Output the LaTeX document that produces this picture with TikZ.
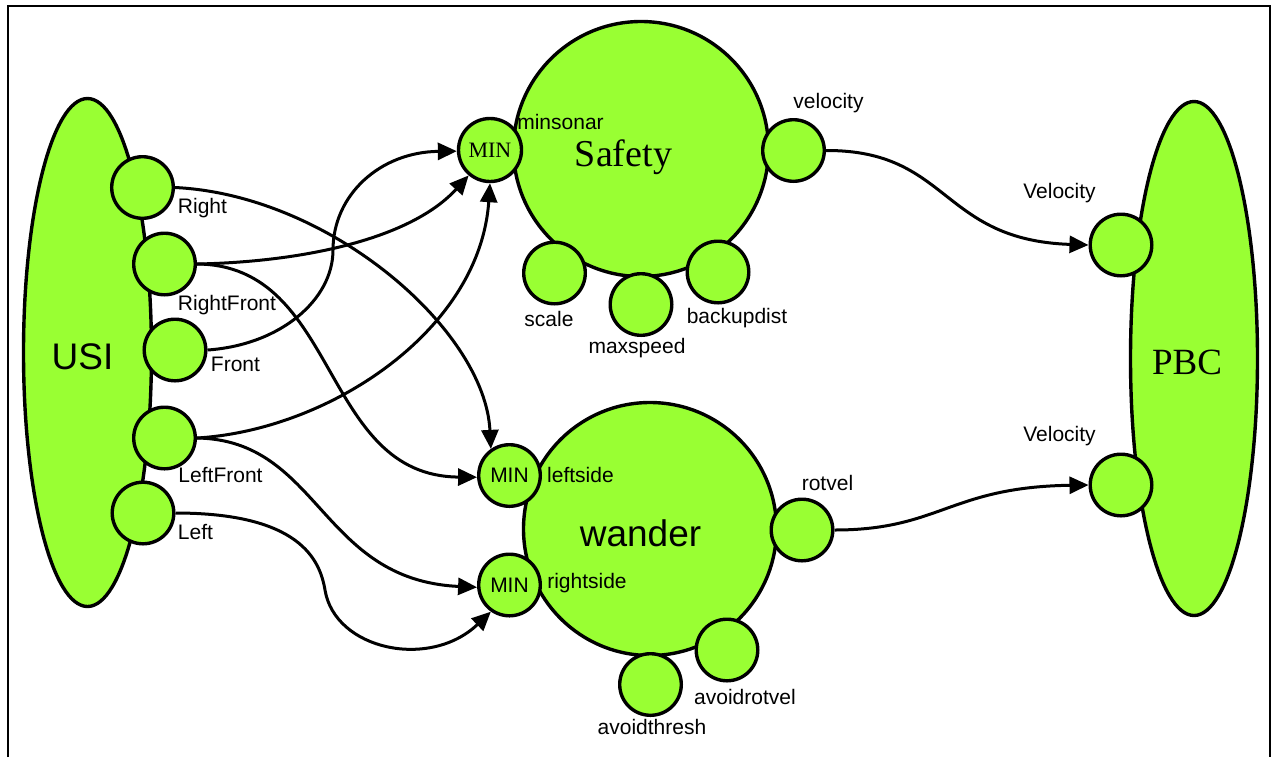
\documentclass[tikz,border=0pt]{standalone}
\usepackage{fontspec}
\setmainfont{Liberation Sans}
\newfontfamily\serifface{Liberation Serif}
\usetikzlibrary{arrows.meta,shapes.geometric}
\definecolor{lime}{RGB}{153,255,51}
\tikzset{
  ln/.style={line width=1.7pt},
  port/.style={circle, draw, ln, fill=lime, minimum size=30.8pt, inner sep=0pt},
  bigc/.style={circle, draw, ln, fill=lime, inner sep=0pt},
  oval/.style={ellipse, draw, ln, fill=lime, inner sep=0pt},
  lbl/.style={inner sep=0pt, font=\fontsize{10.5pt}{12pt}\selectfont},
  minsans/.style={font=\fontsize{10.5pt}{12pt}\selectfont},
  conn/.style={line width=1.5pt, -{Triangle[length=9.5pt,width=8.5pt]}},
}
\begin{document}
\begin{tikzpicture}[x=0.5pt,y=-0.5pt]
\useasboundingbox (0,0) rectangle (1276,757);
% frame
\draw[line width=1pt] (8,757) -- (8,6) -- (1270,6) -- (1270,757);
% big shapes
\node[oval, minimum width=64pt, minimum height=254pt] (USI) at (87.5,352.5) {};
\node[oval, minimum width=63.5pt, minimum height=257pt] (PBC) at (1194,358.5) {};
\node[bigc, minimum size=127.5pt] (Safety) at (641,149) {};
\node[bigc, minimum size=126.5pt] (wander) at (650,529) {};
% texts of big shapes
\node[inner sep=0pt, font=\fontsize{18.5pt}{20pt}\selectfont] (tUSI) at (82.5,357) {USI};
\node[inner sep=0pt, font=\serifface\fontsize{18.5pt}{20pt}\selectfont] (tPBC) at (1187,362) {PBC};
\node[inner sep=0pt, anchor=base, font=\serifface\fontsize{19pt}{20pt}\selectfont] (tSafety) at (623.5,166) {Safety};
\node[inner sep=0pt, anchor=base, font=\fontsize{18.5pt}{20pt}\selectfont] (tWander) at (640.5,546) {wander};
% USI ports
\node[port] (R) at (142.5,187.5) {};
\node[port] (RF) at (164.5,264) {};
\node[port] (F) at (175,350) {};
\node[port] (LF) at (164.5,438) {};
\node[port] (L) at (143,513) {};
% Safety ports
\node[port, minimum size=31.5pt, font=\serifface\fontsize{11pt}{12pt}\selectfont] (MS) at (490,150) {MIN};
\node[port] (vel) at (793.5,150.5) {};
\node[port] (scale) at (554.5,273) {};
\node[port] (maxspeed) at (641,304.5) {};
\node[port] (backupdist) at (718,272) {};
% wander ports
\node[port, minsans] (LS) at (509.5,475.5) {MIN};
\node[port, minsans] (RS) at (509.5,585) {MIN};
\node[port] (rotvel) at (802,530) {};
\node[port] (avoidthresh) at (650.5,684.5) {};
\node[port] (avoidrotvel) at (727,650) {};
% PBC ports
\node[port] (V1) at (1121,245) {};
\node[port] (V2) at (1121,485) {};
% labels
\node[lbl] (lR) at (202.5,208) {Right};
\node[lbl] (lRF) at (227,305) {RightFront};
\node[lbl] (lF) at (235.5,364) {Front};
\node[lbl] (lLF) at (220.5,475) {LeftFront};
\node[lbl] (lL) at (195.5,532) {Left};
\node[lbl] (lMS) at (560.5,122) {minsonar};
\node[lbl] (lvel) at (828.5,103) {velocity};
\node[lbl] (lscale) at (549,319) {scale};
\node[lbl] (lmax) at (637,348) {maxspeed};
\node[lbl] (lback) at (737,318) {backupdist};
\node[lbl] (lLS) at (580.5,475) {leftside};
\node[lbl] (lRS) at (587,583) {rightside};
\node[lbl] (lrot) at (827.5,483) {rotvel};
\node[lbl] (lath) at (652,727) {avoidthresh};
\node[lbl] (larv) at (745,697) {avoidrotvel};
\node[lbl] (lV1) at (1059.5,193) {Velocity};
\node[lbl] (lV2) at (1059.5,436) {Velocity};
% connectors
\draw[conn] (R.east) .. controls (330,195) and (485,330) .. (LS.125);
\draw[conn] (RF.east) .. controls (300,262) and (410,240) .. (MS.230);
\draw[conn] (RF.east) .. controls (340,265) and (320,476) .. (LS.183);
\draw[conn] (F.east) .. controls (280,345) and (333,300) .. (333,250) .. controls (333,195) and (380,152) .. (MS.182);
\draw[conn] (LF.east) .. controls (330,430) and (480,330) .. (MS.south);
\draw[conn] (LF.east) .. controls (320,440) and (320,580) .. (RS.184);
\draw[conn] (L.east) .. controls (300,513) and (320,560) .. (325,590) .. controls (335,650) and (430,670) .. (RS.235);
\draw[conn] (vel.east) .. controls (950,150) and (940,240) .. (V1.west);
\draw[conn] (rotvel.east) .. controls (940,530) and (950,487) .. (V2.west);
\end{tikzpicture}
\end{document}
